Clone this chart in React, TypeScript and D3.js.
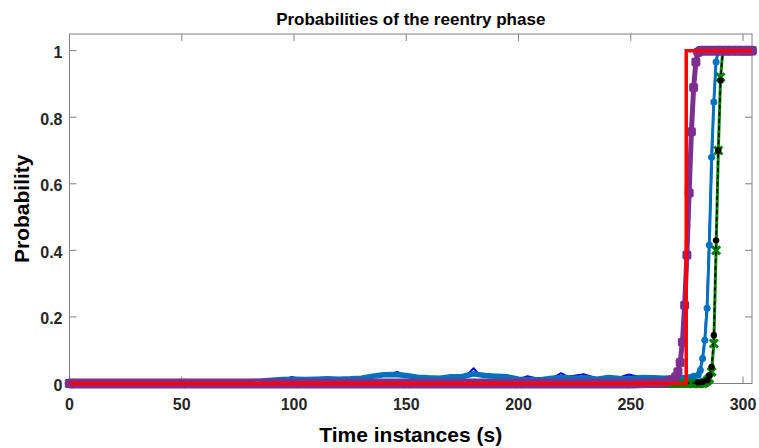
import React from "react";
import * as d3 from "d3";

// ---------- data ----------
const xTicks = [0, 50, 100, 150, 200, 250, 300];
const yTicks = [0, 0.2, 0.4, 0.6, 0.8, 1];
const yTickLabels = ["0", "0.2", "0.4", "0.6", "0.8", "1"];

const navyTime = [0, 50, 85, 90, 95, 99, 103, 110, 120, 130, 140, 143, 146, 149, 155, 165, 175, 178, 180, 182, 190, 200, 204, 210, 216, 219, 222, 229, 235, 245, 249, 255, 265, 275, 280, 281, 282, 283, 284, 285, 286, 287, 288, 289, 304];
const navyValue = [0, 0.002, 0.005, 0.008, 0.01, 0.02, 0.012, 0.013, 0.014, 0.016, 0.024, 0.028, 0.035, 0.026, 0.019, 0.017, 0.021, 0.032, 0.046, 0.03, 0.022, 0.013, 0.022, 0.012, 0.02, 0.031, 0.02, 0.028, 0.015, 0.018, 0.027, 0.018, 0.017, 0.018, 0.03, 0.05, 0.08, 0.14, 0.25, 0.45, 0.64, 0.85, 0.97, 1, 1];

const blueTime = [0, 10, 20, 30, 40, 50, 60, 70, 80, 85, 90, 95, 100, 105, 110, 115, 120, 125, 130, 135, 140, 145, 150, 155, 160, 165, 170, 175, 180, 185, 190, 195, 200, 205, 210, 215, 220, 225, 230, 235, 240, 245, 250, 255, 260, 265, 270, 275, 278, 280, 281, 282, 283, 284, 285, 286, 287, 288, 289, 295, 300, 304];
const blueValue = [0, 0.002, 0.002, 0.003, 0.003, 0.003, 0.004, 0.004, 0.005, 0.007, 0.01, 0.012, 0.013, 0.012, 0.013, 0.014, 0.013, 0.014, 0.016, 0.022, 0.026, 0.027, 0.024, 0.019, 0.017, 0.016, 0.02, 0.021, 0.029, 0.024, 0.022, 0.02, 0.013, 0.012, 0.011, 0.016, 0.018, 0.016, 0.017, 0.013, 0.018, 0.015, 0.014, 0.018, 0.017, 0.016, 0.017, 0.018, 0.022, 0.025, 0.04, 0.075, 0.13, 0.226, 0.416, 0.68, 0.846, 0.966, 1, 1, 1, 1];

const greenTime = [0, 50, 100, 150, 200, 250, 275, 278, 280, 282, 283, 284, 285, 286, 287, 288, 289, 290, 291, 295, 300, 304];
const greenValue = [0, 0, 0, 0, 0, 0, 0, 0, 0, 0, 0.003, 0.008, 0.015, 0.035, 0.12, 0.4, 0.7, 0.92, 1, 1, 1, 1];

const blackTime = [0, 100, 200, 275, 280, 282, 284, 285, 286, 287, 288, 289, 290, 291, 304];
const blackValue = [0, 0, 0, 0, 0.003, 0.005, 0.01, 0.025, 0.05, 0.145, 0.43, 0.7, 0.91, 1, 1];

const purpleTime = [0, 50, 100, 150, 200, 250, 265, 268, 270, 271, 272, 273, 274, 275, 276, 277, 278, 279, 280, 281, 290, 300, 304];
const purpleValue = [0, 0, 0, 0, 0, 0, 0.003, 0.01, 0.02, 0.035, 0.063, 0.124, 0.235, 0.386, 0.572, 0.756, 0.889, 0.966, 0.995, 1, 1, 1, 1];

const redTime = [0, 274.7, 274.7, 304];
const redValue = [0, 0, 1, 1];

const titleText = "Probabilities of the reentry phase";
const xLabelText = "Time instances (s)";
const yLabelText = "Probability";

// ---------- helpers ----------
type Pt = { t: number; v: number };
const zip = (t: number[], v: number[]): Pt[] =>
  t.slice(0, Math.min(t.length, v.length)).map((tt, i) => ({ t: tt, v: v[i] }));

const W = 759;
const H = 448;
const L = 69.5, R = 752, T = 34, B = 383.5;

export default function App() {
  const x = d3.scaleLinear().domain([0, 304]).range([L, R]);
  const y = d3.scaleLinear().domain([0, 1.05]).range([B, T]);
  const line = d3.line<Pt>().x((d) => x(d.t)).y((d) => y(d.v));
  const bandLine = (thr: number) =>
    d3
      .line<Pt>()
      .defined((d) => d.v < thr || d.v > 0.985)
      .x((d) => x(d.t))
      .y((d) => y(d.v));

  const navy = zip(navyTime, navyValue);
  const blue = zip(blueTime, blueValue);
  const green = zip(greenTime, greenValue);
  const black = zip(blackTime, blackValue);
  const purple = zip(purpleTime, purpleValue);
  const red = zip(redTime, redValue);

  const tickLen = 7;
  const axisColor = "#808080";
  const font = "Arial, 'Liberation Sans', sans-serif";

  const xMark = (cx: number, cy: number, s: number) =>
    `M${cx - s},${cy - s}L${cx + s},${cy + s}M${cx - s},${cy + s}L${cx + s},${cy - s}`;

  return (
    <svg
      width={W}
      height={H}
      style={{ position: "absolute", left: 0, top: 0, display: "block", background: "#fff" }}
      fontFamily={font}
    >
      <rect x={0} y={0} width={W} height={H} fill="#fff" />
      {/* axes box */}
      <rect x={L} y={T} width={R - L} height={B - T} fill="none" stroke={axisColor} strokeWidth={1} />
      {xTicks.map((t) => (
        <g key={"xt" + t}>
          <line x1={x(t)} x2={x(t)} y1={B} y2={B - tickLen} stroke={axisColor} />
          <line x1={x(t)} x2={x(t)} y1={T} y2={T + tickLen} stroke={axisColor} />
          <text x={x(t)} y={B + 26} textAnchor="middle" fontSize={16} fontWeight="bold" fill="#262626">
            {t}
          </text>
        </g>
      ))}
      {yTicks.map((v, i) => (
        <g key={"yt" + v}>
          <line x1={L} x2={L + tickLen} y1={y(v)} y2={y(v)} stroke={axisColor} />
          <line x1={R} x2={R - tickLen} y1={y(v)} y2={y(v)} stroke={axisColor} />
          <text x={L - 7} y={y(v) + 7.5} textAnchor="end" fontSize={16} fontWeight="bold" fill="#262626">
            {yTickLabels[i]}
          </text>
        </g>
      ))}

      {/* pure blue */}
      <path d={line(navy) || ""} fill="none" stroke="#0000FF" strokeWidth={2} strokeLinejoin="round" />
      {/* blue with circles */}
      <path d={line(blue) || ""} fill="none" stroke="#0072BD" strokeWidth={3} strokeLinejoin="round" />
      <path d={bandLine(0.05)(blue) || ""} fill="none" stroke="#0072BD" strokeWidth={5.5} strokeLinejoin="round" />
      {blue.filter((d) => d.t >= 278).map((d, i) => (
        <circle key={"bc" + i} cx={x(d.t)} cy={y(d.v)} r={3.5} fill="#0072BD" />
      ))}
      {/* green with x markers */}
      <path d={line(green) || ""} fill="none" stroke="#008000" strokeWidth={3} strokeLinejoin="round" />
      <path d={bandLine(0.02)(green) || ""} fill="none" stroke="#008000" strokeWidth={9} strokeLinejoin="round" />
      {green.map((d, i) => (
        <path key={"gx" + i} d={xMark(x(d.t), y(d.v), 4)} stroke="#008000" strokeWidth={3} fill="none" />
      ))}
      {/* black dashed with markers */}
      <path d={line(black) || ""} fill="none" stroke="#000" strokeWidth={1.5} strokeDasharray="4,3" />
      {black.filter((d) => d.t >= 280).map((d, i) => (
        <circle key={"kc" + i} cx={x(d.t)} cy={y(d.v)} r={3.2} fill="#000" />
      ))}
      {/* purple with squares */}
      <path d={line(purple) || ""} fill="none" stroke="#7E2F8E" strokeWidth={5} strokeLinejoin="round" />
      <path d={bandLine(0.02)(purple) || ""} fill="none" stroke="#7E2F8E" strokeWidth={10} strokeLinejoin="round" strokeLinecap="round" />
      {purple.map((d, i) => (
        <rect key={"ps" + i} x={x(d.t) - 4.5} y={y(d.v) - 4.5} width={9} height={9} rx={2} fill="#7E2F8E" />
      ))}
      {/* red */}
      <path d={line(red) || ""} fill="none" stroke="#FF0000" strokeWidth={3.5} strokeLinejoin="miter" />

      {/* labels */}
      <text x={(L + R) / 2} y={25} textAnchor="middle" fontSize={17} fontWeight="bold" fill="#000">
        {titleText}
      </text>
      <text x={(L + R) / 2} y={442} textAnchor="middle" fontSize={21} fontWeight="bold" fill="#000">
        {xLabelText}
      </text>
      <text
        transform={`translate(${29},${(T + B) / 2}) rotate(-90)`}
        textAnchor="middle"
        fontSize={21}
        fontWeight="bold"
        fill="#000"
      >
        {yLabelText}
      </text>
    </svg>
  );
}
